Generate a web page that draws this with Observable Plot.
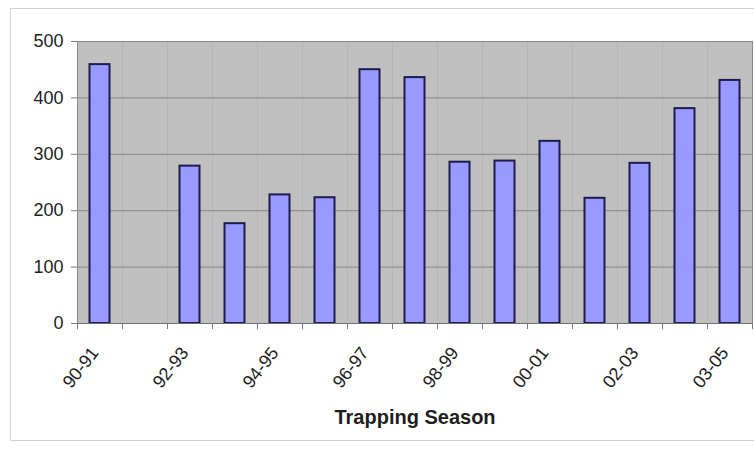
<!DOCTYPE html>
<html><head><meta charset="utf-8">
<script src="https://cdn.jsdelivr.net/npm/d3@7"></script>
<script src="https://cdn.jsdelivr.net/npm/@observablehq/plot@0.6"></script>
<style>
html,body{margin:0;padding:0;background:#fff;overflow:hidden;}
#wrap{position:relative;width:754px;height:451px;overflow:hidden;}
#border{position:absolute;left:10px;top:8px;width:780px;height:431px;border:1px solid #d2d2d2;pointer-events:none;}
svg{display:block;}
</style></head><body><div id="wrap"><div id="border"></div></div>
<script>
const seasons = ["90-91","91-92","92-93","93-94","94-95","95-96","96-97","97-98","98-99","99-00","00-01","01-02","02-03","03-04","03-05"];
const counts = [459, null, 279, 177, 228, 223, 450, 436, 286, 288, 323, 222, 284, 381, 431];
const yTicks = [0, 100, 200, 300, 400, 500];
const xLabelTicks = seasons.filter((d, i) => i % 2 === 0);
const xTitle = "Trapping Season";

const data = seasons.map((s, i) => ({season: s, count: counts[i]})).filter(d => d.count != null);
const W = 754, H = 451, ML = 77, MR = 2, MT = 41, MB = 128;
const half = (W - ML - MR) / seasons.length / 2;

const chart = Plot.plot({
  width: W, height: H,
  marginLeft: ML, marginRight: MR, marginTop: MT, marginBottom: MB,
  style: {fontFamily: "'Liberation Sans', Arial, sans-serif", fontSize: "18px", color: "#1e1e1e", background: "transparent"},
  x: {type: "band", domain: seasons, padding: 0, axis: null},
  y: {domain: [0, 500], axis: null},
  marks: [
    Plot.frame({fill: "#c0c0c0", stroke: null}),
    Plot.gridX(seasons, {dx: -half, stroke: "#b6b6b6", strokeOpacity: 1}),
    Plot.gridY(yTicks.slice(1), {stroke: "#878787", strokeOpacity: 1}),
    Plot.frame({stroke: "#8a8a8a"}),
    Plot.barY(data, {x: "season", y: "count", fill: "#9999ff", stroke: "#1c1c4e", strokeWidth: 2, insetLeft: 12.5, insetRight: 12.5}),
    Plot.ruleY([0], {stroke: "#6f6f6f"}),
    Plot.axisY({ticks: yTicks, tickSize: 6, tickPadding: 8, stroke: "#7a7a7a", label: null}),
    Plot.axisX({ticks: seasons, dx: -half, tickSize: 6, tickFormat: () => "", stroke: "#7a7a7a", label: null}),
    Plot.axisX({ticks: [seasons[seasons.length - 1]], dx: half, tickSize: 6, tickFormat: () => "", stroke: "#7a7a7a", label: null}),
    Plot.axisX({ticks: xLabelTicks, tickSize: 0, tickRotate: -52, tickPadding: 26, dx: -5, label: null}),
    Plot.text([xTitle], {frameAnchor: "bottom", dy: 100, fontWeight: "bold", fontSize: 20, fill: "#1e1e1e"})
  ]
});
document.getElementById("wrap").prepend(chart);
</script></body></html>
